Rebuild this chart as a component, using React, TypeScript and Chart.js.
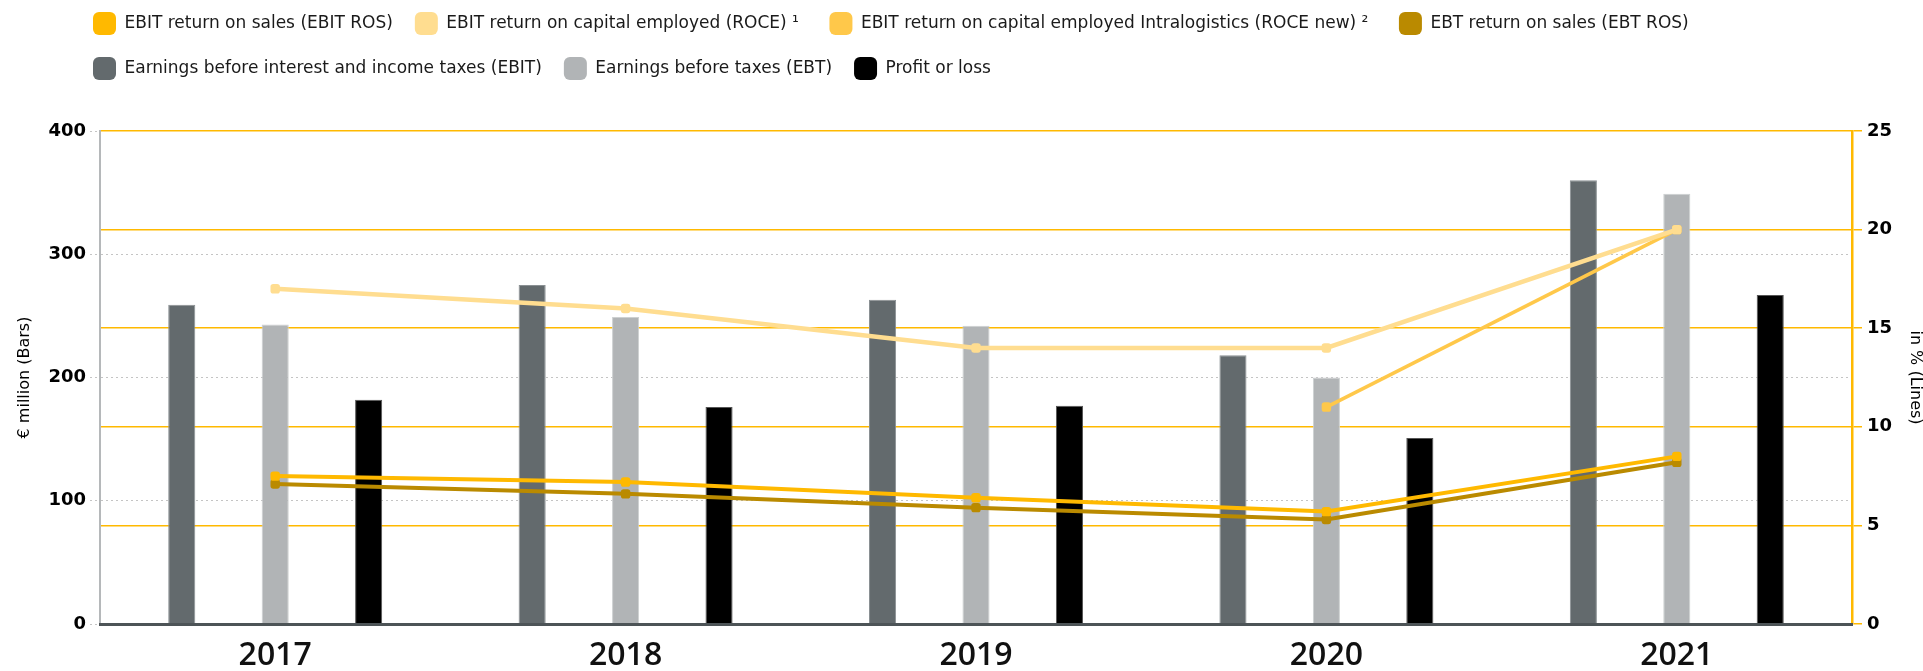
import React, { useEffect, useRef } from 'react';
import { Chart, registerables } from 'chart.js';

Chart.register(...registerables);

// ---- data ----
const years = ['2017', '2018', '2019', '2020', '2021'];
const ebitBars = [259, 275, 263, 218, 360];
const ebtBars = [243, 249, 242, 200, 349];
const profitBars = [182, 176, 177, 151, 267];
const ebitRos = [7.5, 7.2, 6.4, 5.7, 8.5];
const roce = [17, 16, 14, 14, 20];
const roceNew: (number | null)[] = [null, null, null, 11, 20];
const ebtRos = [7.1, 6.6, 5.9, 5.3, 8.2];
const leftAxisMax = 400;
const leftAxisStep = 100;
const rightAxisMax = 25;
const rightAxisStep = 5;

const labelsText = {
  ebitRos: 'EBIT return on sales (EBIT ROS)',
  roce: 'EBIT return on capital employed (ROCE) \u00B9\u2002',
  roceNew: 'EBIT return on capital employed Intralogistics (ROCE new) \u00B2\u2002',
  ebtRos: 'EBT return on sales (EBT ROS)',
  ebit: 'Earnings before interest and income taxes (EBIT)',
  ebt: 'Earnings before taxes (EBT)',
  profit: 'Profit or loss',
};

const C = {
  ebitRos: '#FFB900',
  roce: '#FFDD90',
  roceNew: '#FFC84A',
  ebtRos: '#BA8A00',
  ebit: '#636A6D',
  ebt: '#B1B4B6',
  profit: '#000000',
  grid: '#FFB900',
  dotted: '#C4C4C4',
};

const LEGEND_H = 131;
const LEGEND_DX = 71;
const LEGEND_DY = -10;

const legendFix = {
  id: 'legendFix',
  afterInit(chart: any) {
    const legend = chart.legend;
    if (!legend) return;
    const orig = legend.fit;
    legend.fit = function () {
      orig.call(this);
      this.height = LEGEND_H;
    };
  },
  afterLayout(chart: any) {
    const l = chart.legend;
    if (!l) return;
    l.left += LEGEND_DX;
    l.right += LEGEND_DX;
    l.top += LEGEND_DY;
    l.bottom += LEGEND_DY;
  },
};

export default function App() {
  const ref = useRef<HTMLCanvasElement | null>(null);

  useEffect(() => {
    if (!ref.current) return;
    const lineCommon = {
      type: 'line' as const,
      yAxisID: 'y1',
      tension: 0,
      pointStyle: 'rectRounded' as const,
      pointRadius: 5.5,
      pointBorderWidth: 0,
      spanGaps: false,
    };
    const barCommon = {
      type: 'bar' as const,
      yAxisID: 'y',
      categoryPercentage: 0.8,
      barPercentage: 0.29,
      borderWidth: 1,
    };
    const chart = new Chart(ref.current, {
      type: 'bar',
      data: {
        labels: years,
        datasets: [
          { ...lineCommon, label: labelsText.ebitRos, data: ebitRos, borderColor: C.ebitRos, backgroundColor: C.ebitRos, pointBackgroundColor: C.ebitRos, borderWidth: 4 },
          { ...lineCommon, label: labelsText.roce, data: roce, borderColor: C.roce, backgroundColor: C.roce, pointBackgroundColor: C.roce, borderWidth: 4.5 },
          { ...lineCommon, label: labelsText.roceNew, data: roceNew, borderColor: C.roceNew, backgroundColor: C.roceNew, pointBackgroundColor: C.roceNew, borderWidth: 3.5 },
          { ...lineCommon, label: labelsText.ebtRos, data: ebtRos, borderColor: C.ebtRos, backgroundColor: C.ebtRos, pointBackgroundColor: C.ebtRos, borderWidth: 4 },
          { ...barCommon, label: labelsText.ebit, data: ebitBars, backgroundColor: C.ebit, borderColor: '#8A9093' },
          { ...barCommon, label: labelsText.ebt, data: ebtBars, backgroundColor: C.ebt, borderColor: '#CDD0D1' },
          { ...barCommon, label: labelsText.profit, data: profitBars, backgroundColor: C.profit, borderColor: '#555555' },
        ] as any,
      },
      options: {
        responsive: false,
        maintainAspectRatio: false,
        devicePixelRatio: 1,
        animation: false,
        layout: { padding: 0 },
        plugins: {
          tooltip: { enabled: false },
          legend: {
            display: true,
            position: 'top',
            align: 'start',
            labels: {
              boxWidth: 23,
              boxHeight: 23,
              useBorderRadius: true,
              borderRadius: 6,
              padding: 22,
              color: '#1a1a1a',
              font: { family: 'DejaVu Sans', size: 17 },
              generateLabels: (chart: any) => {
                const items = (Chart as any).defaults.plugins.legend.labels.generateLabels(chart);
                return items.map((it: any) => {
                  const ds = chart.data.datasets[it.datasetIndex];
                  return { ...it, lineWidth: 0, strokeStyle: 'rgba(0,0,0,0)', fillStyle: ds.backgroundColor };
                });
              },
            },
          },
        },
        scales: {
          x: {
            grid: { display: false, drawTicks: false },
            border: { display: true, color: '#4D5457', width: 3, z: 1 },
            ticks: {
              color: '#111111',
              padding: 13,
              font: { family: 'Open Sans', size: 32, weight: '600' },
            },
            afterFit: (s: any) => { s.height = 47; },
          },
          y: {
            position: 'left',
            min: 0,
            max: leftAxisMax,
            ticks: {
              stepSize: leftAxisStep,
              color: '#000000',
              padding: 4,
              font: { family: 'DejaVu Sans', size: 18, weight: 'bold' },
            },
            grid: {
              color: (ctx: any) => (ctx.tick && (ctx.tick.value === 0 || ctx.tick.value === leftAxisMax)) ? 'rgba(0,0,0,0)' : C.dotted,
              lineWidth: 1,
              tickLength: 10,
              tickColor: C.dotted,
              tickBorderDash: [2, 3],
            },
            border: { display: true, color: '#B5B8BA', width: 2, dash: [2, 3] },
            title: {
              display: true,
              text: '\u20AC million (Bars)',
              color: '#000000',
              font: { family: 'DejaVu Sans', size: 16, lineHeight: 1 },
              padding: { top: 17, bottom: 0 },
            },
            afterFit: (s: any) => { s.width = 100; },
          },
          y1: {
            position: 'right',
            min: 0,
            max: rightAxisMax,
            ticks: {
              stepSize: rightAxisStep,
              color: '#000000',
              padding: 5,
              font: { family: 'DejaVu Sans', size: 18, weight: 'bold' },
            },
            grid: {
              color: (ctx: any) => (ctx.tick && ctx.tick.value === 0) ? 'rgba(0,0,0,0)' : C.grid,
              lineWidth: 1.5,
              tickLength: 10,
              tickColor: C.grid,
            },
            border: { display: true, color: C.grid, width: 2.5 },
            title: {
              display: true,
              text: 'in % (Lines)',
              color: '#000000',
              font: { family: 'DejaVu Sans', size: 16, lineHeight: 1 },
              padding: { top: 0, bottom: 0 },
            },
            afterFit: (s: any) => { s.width = 71; },
          },
        },
      } as any,
      plugins: [legendFix],
    });
    return () => chart.destroy();
  }, []);

  return (
    <div style={{ position: 'fixed', left: 0, top: 0, width: 1923, height: 671, background: '#fff' }}>
      <canvas ref={ref} width={1923} height={671} style={{ display: 'block', width: 1923, height: 671 }} />
    </div>
  );
}
